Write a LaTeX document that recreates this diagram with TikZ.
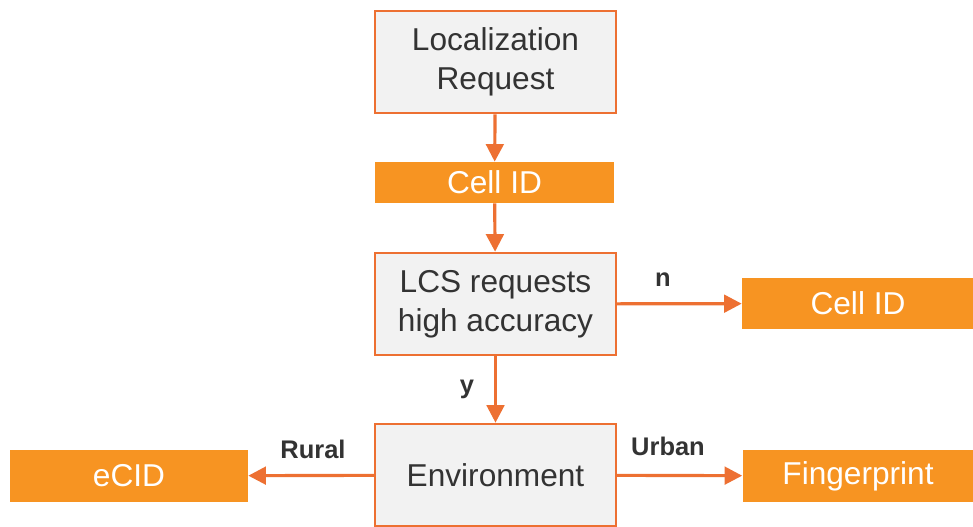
\documentclass[tikz,border=0pt]{standalone}
\usepackage{fontspec}
\setmainfont{Liberation Sans}
\usetikzlibrary{arrows.meta}
\definecolor{lineorange}{RGB}{237,112,50}
\definecolor{boxorange}{RGB}{247,148,34}
\definecolor{boxgray}{RGB}{242,242,242}
\definecolor{textgray}{RGB}{51,51,51}
\begin{document}
\begin{tikzpicture}[x=0.02cm, y=-0.02cm]
        \tikzset{stepbox/.style={draw=lineorange, line width=1.2pt, fill=boxgray,
                text=textgray, align=center, inner sep=0pt,
                minimum width=4.82cm, minimum height=2.05cm,
                font=\fontsize{18}{22}\selectfont},
            resultbox/.style={fill=boxorange, text=white, inner sep=0pt,
                minimum height=1.03cm, font=\fontsize{18}{22}\selectfont},
            flow/.style={draw=lineorange, line width=1.8pt,
                -{Triangle[length=10pt, width=10pt]}},
            tag/.style={text=textgray, font=\fontsize{14.5}{17}\selectfont\bfseries}}
        \useasboundingbox (0,0) rectangle (973,527);
        \node[stepbox] (request) at (495.5,62) {Localization\\Request};
        \node[resultbox, minimum width=4.78cm, minimum height=0.82cm] (cellid) at (494.5,182.5) {Cell ID};
        \node[stepbox] (lcs) at (495.5,304) {LCS requests\\high accuracy};
        \node[resultbox, minimum width=4.64cm] (cellidn) at (858,303.5) {Cell ID};
        \node[stepbox] (env) at (495.5,475) {Environment};
        \node[resultbox, minimum width=4.76cm] (ecid) at (129,476) {eCID};
        \node[resultbox, minimum width=4.62cm] (finger) at (858,476) {Fingerprint};
        \draw[flow] (request) -- (cellid);
        \draw[flow] (cellid) -- (lcs);
        \draw[flow] (lcs) -- (cellidn);
        \draw[flow] (lcs) -- (env);
        \draw[flow] (env) -- (ecid);
        \draw[flow] (env) -- (finger);
        \node[tag] (labn) at (663,280) {n};
        \node[tag] (laby) at (467,389) {y};
        \node[tag] (labrural) at (313,449) {Rural};
        \node[tag] (laburban) at (668,446) {Urban};
    \end{tikzpicture}
\end{document}
